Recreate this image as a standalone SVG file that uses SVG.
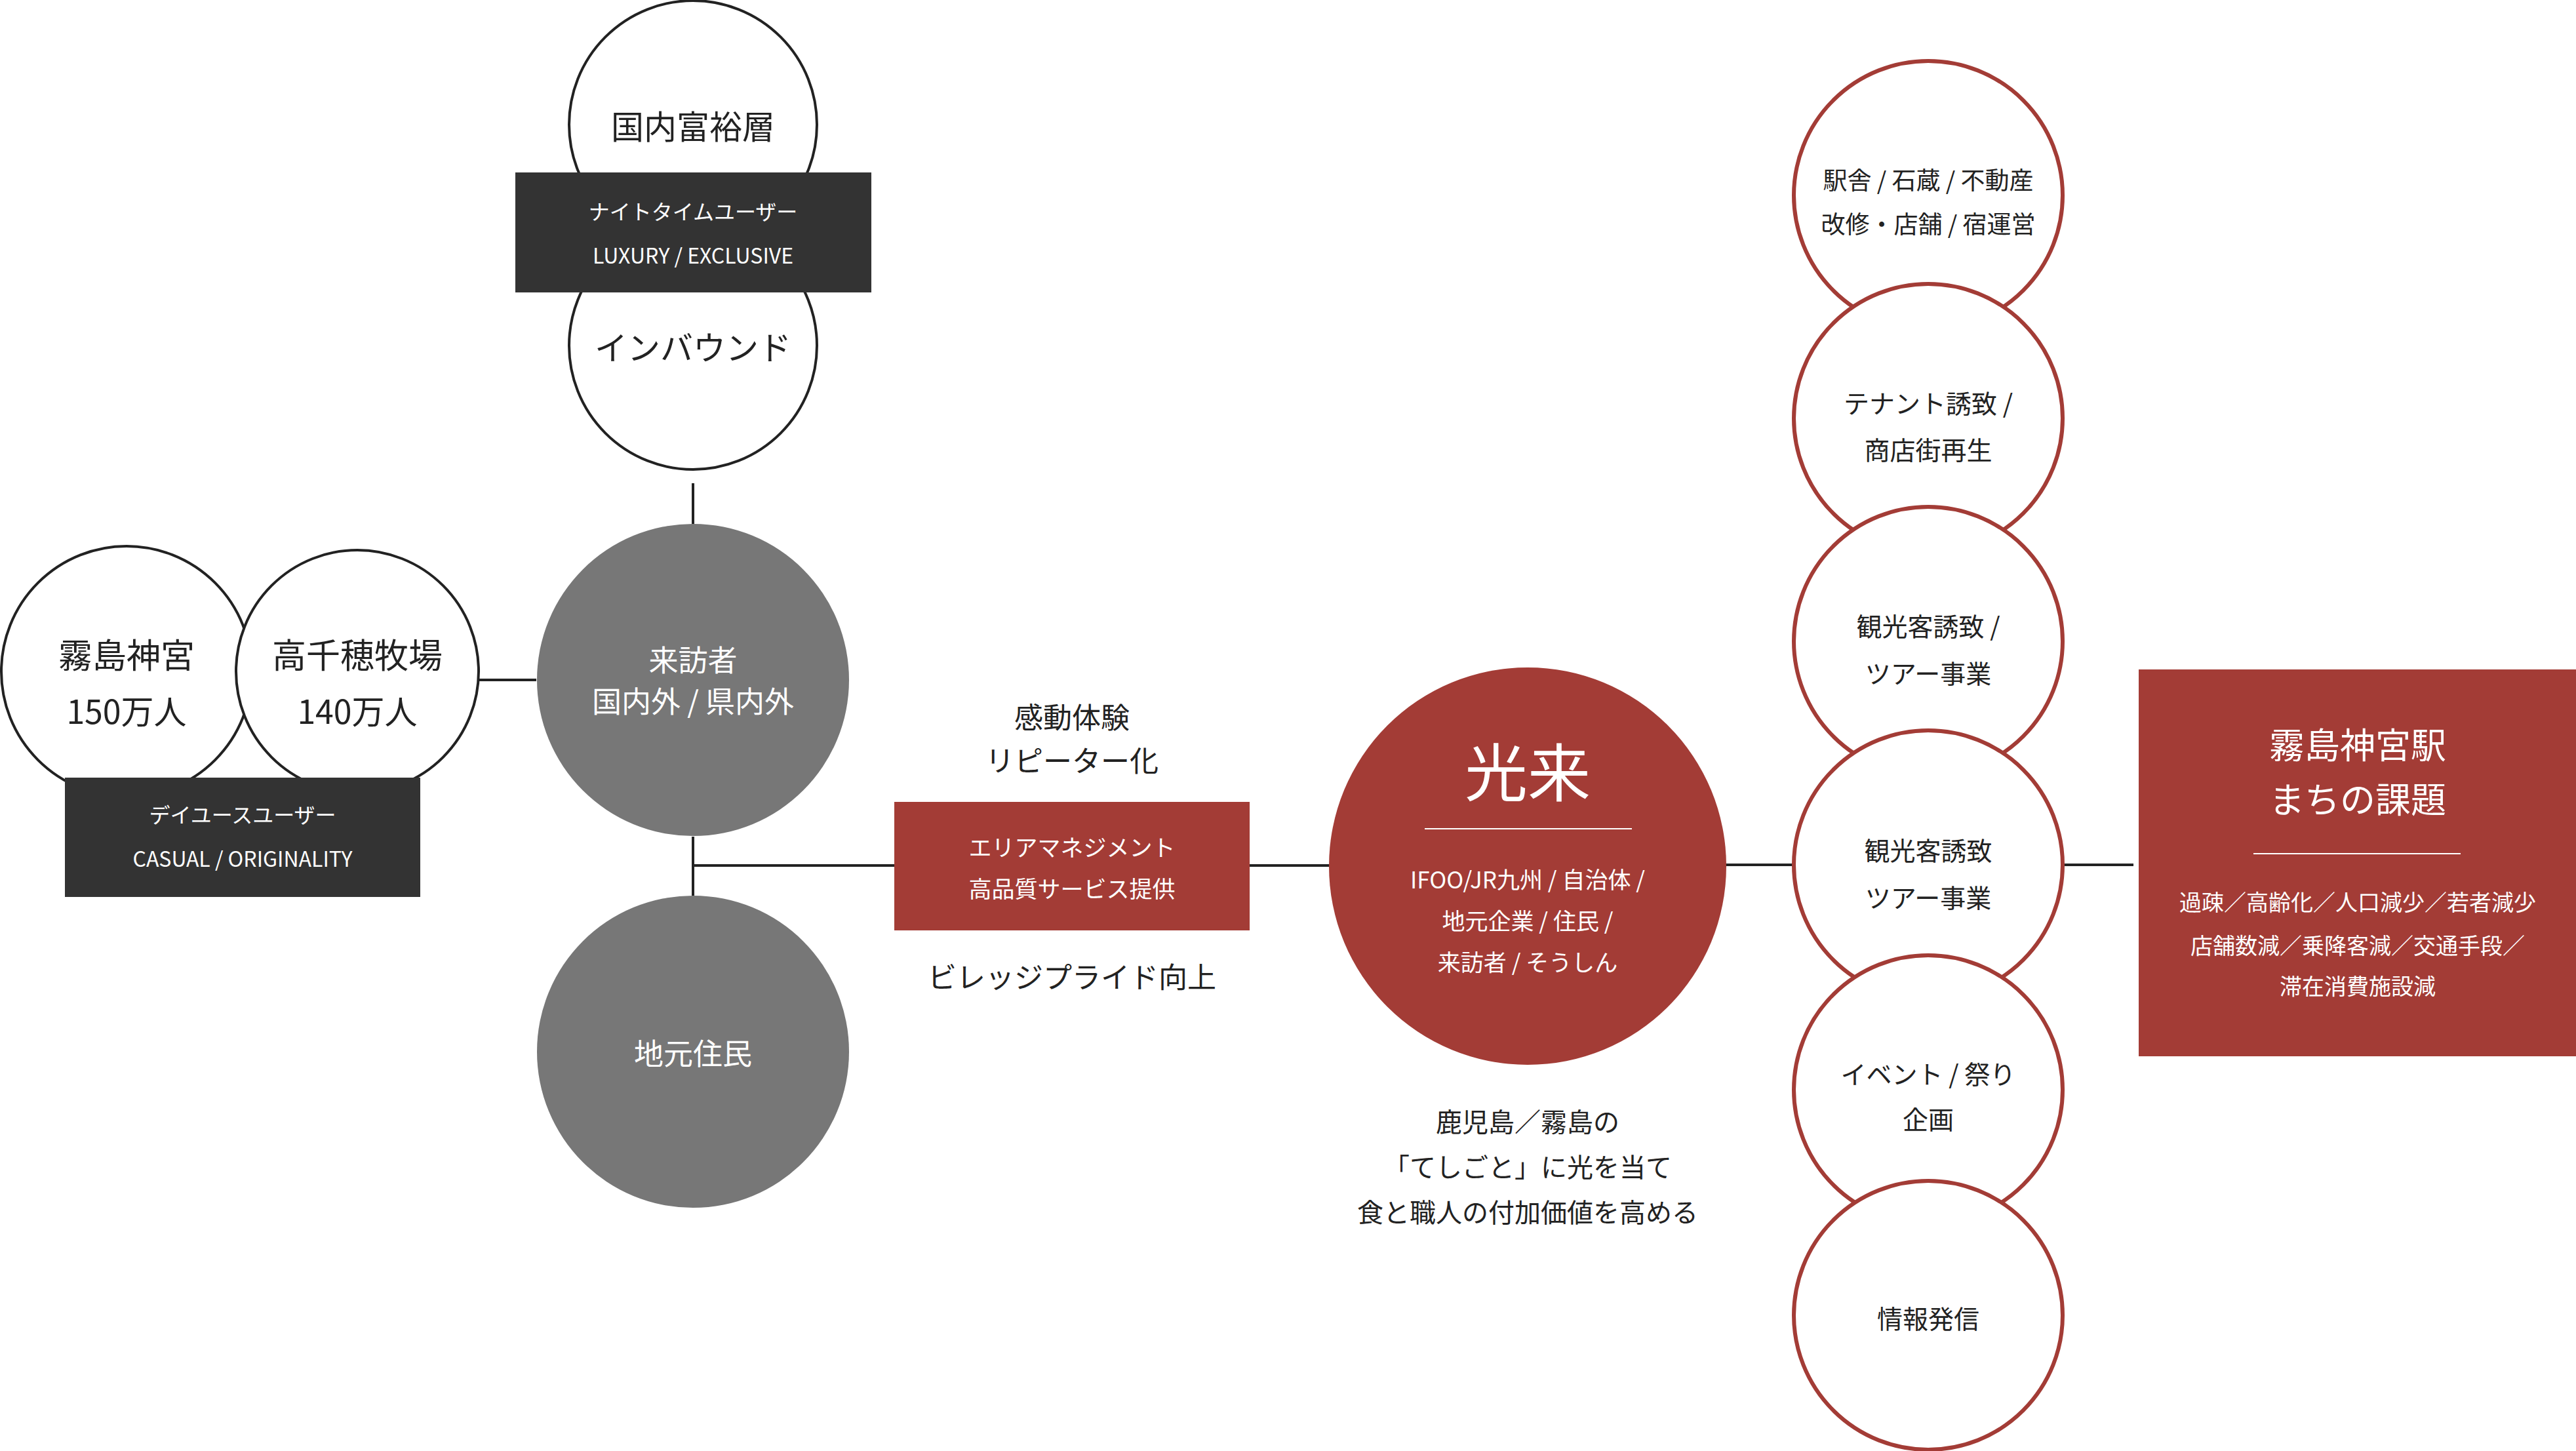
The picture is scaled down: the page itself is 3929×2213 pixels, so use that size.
<svg xmlns="http://www.w3.org/2000/svg" width="3929" height="2213" viewBox="0 0 3929 2213">
<style>
text{font-family:"Noto Sans CJK JP","Noto Sans",sans-serif;text-anchor:middle;dominant-baseline:central}
.wc{fill:#fff;stroke:#222;stroke-width:4}
.rc{fill:#fff;stroke:#a33c36;stroke-width:6}
.gc{fill:#777}
.dk{fill:#333}
.rd{fill:#a33c36}
.ln{stroke:#222;stroke-width:4;fill:none}
.wl{stroke:#fff;stroke-width:2}
.b{fill:#222}
.w{fill:#fff}
</style>
<g id="connectors">
<line class="ln" x1="1057" y1="737" x2="1057" y2="799"/>
<line class="ln" x1="730" y1="1037" x2="818" y2="1037"/>
<line class="ln" x1="1057" y1="1276" x2="1057" y2="1366"/>
<line class="ln" x1="1057" y1="1320" x2="1365" y2="1320"/>
<line class="ln" x1="1905" y1="1320" x2="2030" y2="1320"/>
<line class="ln" x1="2632" y1="1319" x2="2734" y2="1319"/>
<line class="ln" x1="3148" y1="1319" x2="3254" y2="1319"/>
</g>
<g id="n-fuyuso"><circle class="wc" cx="1057" cy="190" r="189"/><text class="b" x="1057" y="190" font-size="50">国内富裕層</text></g>
<g id="n-inbound"><circle class="wc" cx="1057" cy="527" r="189"/><text class="b" x="1057" y="527" font-size="50">インバウンド</text></g>
<g id="n-night"><rect class="dk" x="786" y="263" width="543" height="183"/><text class="w" x="1057" y="321" font-size="32">ナイトタイムユーザー</text><text class="w" x="1057" y="388" font-size="32">LUXURY / EXCLUSIVE</text></g>
<g id="n-kirishima"><circle class="wc" cx="193" cy="1024" r="191"/><text class="b" x="193" y="996" font-size="52">霧島神宮</text><text class="b" x="193" y="1082" font-size="50">150万人</text></g>
<g id="n-takachiho"><circle class="wc" cx="545" cy="1024" r="185"/><text class="b" x="545" y="996" font-size="52">高千穂牧場</text><text class="b" x="545" y="1082" font-size="50">140万人</text></g>
<g id="n-dayuse"><rect class="dk" x="99" y="1186" width="542" height="182"/><text class="w" x="370" y="1241" font-size="32">デイユースユーザー</text><text class="w" x="370" y="1308" font-size="32">CASUAL / ORIGINALITY</text></g>
<g id="n-visitor"><circle class="gc" cx="1057" cy="1037" r="238"/><text class="w" x="1057" y="1004" font-size="45">来訪者</text><text class="w" x="1057" y="1067" font-size="45">国内外 / 県内外</text></g>
<g id="n-local"><circle class="gc" cx="1057" cy="1604" r="238"/><text class="w" x="1057" y="1604" font-size="45">地元住民</text></g>
<g id="n-area"><text class="b" x="1635" y="1092" font-size="44">感動体験</text><text class="b" x="1635" y="1158" font-size="44">リピーター化</text><rect class="rd" x="1364" y="1223" width="542" height="196"/><text class="w" x="1635" y="1290" font-size="35">エリアマネジメント</text><text class="w" x="1635" y="1353" font-size="35">高品質サービス提供</text><text class="b" x="1635" y="1488" font-size="44">ビレッジプライド向上</text></g>
<g id="n-korai"><circle class="rd" cx="2330" cy="1321" r="303"/><text class="w" x="2330" y="1172" font-size="96">光来</text><line class="wl" x1="2173" y1="1264" x2="2489" y2="1264"/><text class="w" x="2330" y="1339" font-size="35">IFOO/JR九州 / 自治体 /</text><text class="w" x="2330" y="1402" font-size="35">地元企業 / 住民 /</text><text class="w" x="2330" y="1465" font-size="35">来訪者 / そうしん</text><text class="b" x="2330" y="1709" font-size="40">鹿児島／霧島の</text><text class="b" x="2330" y="1778" font-size="40">「てしごと」に光を当て</text><text class="b" x="2330" y="1847" font-size="40">食と職人の付加価値を高める</text></g>
<g id="n-c1"><circle class="rc" cx="2941" cy="298" r="205"/><text class="b" x="2941" y="273" font-size="37">駅舎 / 石蔵 / 不動産</text><text class="b" x="2941" y="340" font-size="37">改修・店舗 / 宿運営</text></g>
<g id="n-c2"><circle class="rc" cx="2941" cy="638" r="205"/><text class="b" x="2941" y="613" font-size="39">テナント誘致 /</text><text class="b" x="2941" y="684" font-size="39">商店街再生</text></g>
<g id="n-c3"><circle class="rc" cx="2941" cy="978" r="205"/><text class="b" x="2941" y="953" font-size="39">観光客誘致 /</text><text class="b" x="2941" y="1025" font-size="39">ツアー事業</text></g>
<g id="n-c4"><circle class="rc" cx="2941" cy="1319" r="205"/><text class="b" x="2941" y="1295" font-size="39">観光客誘致</text><text class="b" x="2941" y="1367" font-size="39">ツアー事業</text></g>
<g id="n-c5"><circle class="rc" cx="2941" cy="1662" r="205"/><text class="b" x="2941" y="1636" font-size="39">イベント / 祭り</text><text class="b" x="2941" y="1705" font-size="39">企画</text></g>
<g id="n-c6"><circle class="rc" cx="2941" cy="2006" r="205"/><text class="b" x="2941" y="2009" font-size="39">情報発信</text></g>
<g id="n-issue"><rect class="rd" x="3262" y="1021" width="667" height="590"/><text class="w" x="3596" y="1133" font-size="54">霧島神宮駅</text><text class="w" x="3596" y="1216" font-size="54">まちの課題</text><line class="wl" x1="3437" y1="1302" x2="3753" y2="1302"/><text class="w" x="3596" y="1374" font-size="34">過疎／高齢化／人口減少／若者減少</text><text class="w" x="3596" y="1440" font-size="34">店舗数減／乗降客減／交通手段／</text><text class="w" x="3596" y="1502" font-size="34">滞在消費施設減</text></g>
</svg>
